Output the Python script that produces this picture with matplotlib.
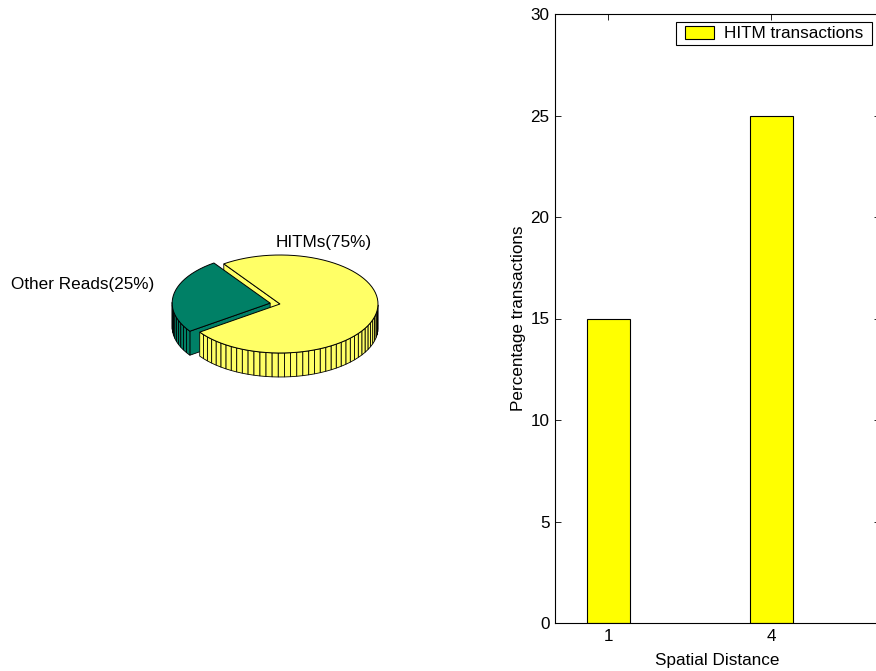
import numpy as np
import matplotlib
matplotlib.use('Agg')
import matplotlib.pyplot as plt
from matplotlib.patches import Polygon, Rectangle

# ---------------- data ----------------
pie_labels = ["HITMs(75%)", "Other Reads(25%)"]
pie_values = [75, 25]
pie_colors = ["#FFFF66", "#008066"]
pie_explode = [0, 1]

bar_categories = ["1", "4"]
bar_values = [15, 25]
legend_label = "HITM transactions"
x_label = "Spatial Distance"
y_label = "Percentage transactions"
y_ticks = [0, 5, 10, 15, 20, 25, 30]

FS = 12.3
plt.rcParams['font.family'] = ['Liberation Sans', 'DejaVu Sans']
plt.rcParams['font.size'] = FS

W, H = 876, 671
fig = plt.figure(figsize=(W / 100, H / 100), dpi=100)

# ---------------- 3D pie (projected) ----------------
pax = fig.add_axes([0, 0, 1, 1])
pax.set_xlim(0, W)
pax.set_ylim(H, 0)
pax.axis('off')

cx, cy = 280, 304       # centre of pie top (px)
rx, ry = 98, 49         # ellipse radii
th = 24                 # thickness
start_deg = 215.0
explode_dist = 10.0
step_deg = 3.6
k = ry / rx


def proj(gx, gy, bottom=False):
    return (cx + gx, cy - gy * k + (th if bottom else 0))


faces = []   # (depth, polygon pts, color)
tops = []
total = float(sum(pie_values))
a = start_deg
for val, col, ex in zip(pie_values, pie_colors, pie_explode):
    span = 360.0 * val / total
    a0, a1 = a, a + span
    a = a1
    mid = np.radians((a0 + a1) / 2)
    ox = explode_dist * ex * np.cos(mid)
    oy = explode_dist * ex * np.sin(mid)
    n = max(1, int(round(span / step_deg)))
    angs = np.radians(np.linspace(a0, a1, n + 1))
    gxs = ox + rx * np.cos(angs)
    gys = oy + rx * np.sin(angs)
    # top
    pts = [proj(ox, oy)] + [proj(gx, gy) for gx, gy in zip(gxs, gys)]
    tops.append((pts, col))
    # outer side facets
    for i in range(n):
        m = (angs[i] + angs[i + 1]) / 2
        if np.sin(m) < 0:
            q = [proj(gxs[i], gys[i]), proj(gxs[i + 1], gys[i + 1]),
                 proj(gxs[i + 1], gys[i + 1], True), proj(gxs[i], gys[i], True)]
            faces.append((oy + rx * np.sin(m), q, col))
    # radial walls
    for ang, nrm in ((angs[0], angs[0] - np.pi / 2), (angs[-1], angs[-1] + np.pi / 2)):
        if np.sin(nrm) < 0:
            ex_, ey_ = ox + rx * np.cos(ang), oy + rx * np.sin(ang)
            q = [proj(ox, oy), proj(ex_, ey_), proj(ex_, ey_, True), proj(ox, oy, True)]
            faces.append((oy + 0.5 * rx * np.sin(ang), q, col))

faces.sort(key=lambda f: -f[0])
z = 1
for d, q, col in faces:
    pax.add_patch(Polygon(q, closed=True, facecolor=col, edgecolor='black',
                          linewidth=0.6, zorder=z))
    z += 0.001
for pts, col in tops:
    pax.add_patch(Polygon(pts, closed=True, facecolor=col, edgecolor='black',
                          linewidth=0.7, zorder=3))

pax.text(324, 243, pie_labels[0], ha='center', va='center', fontsize=FS)
pax.text(83, 285, pie_labels[1], ha='center', va='center', fontsize=FS)

# ---------------- bar chart ----------------
left, right, top, bottom = 555, 880, 14, 623
bax = fig.add_axes([left / W, (H - bottom) / H, (right - left) / W, (bottom - top) / H])
xpos = np.arange(1, len(bar_categories) + 1)
bax.bar(xpos, bar_values, width=0.264, color='#FFFF00', edgecolor='black',
        linewidth=0.8, label=legend_label, zorder=2)
bax.set_xlim(0.672, 0.672 + (right - left) / 163.0)
bax.set_ylim(0, 30)
bax.set_yticks(y_ticks)
bax.set_xticks(xpos, bar_categories)
bax.tick_params(direction='in', top=True, right=True, length=4.0, width=0.6,
                pad=4, labelsize=FS)
for s in bax.spines.values():
    s.set_linewidth(0.8)
bax.spines['right'].set_visible(False)
bax.set_xlabel(x_label, fontsize=FS)
bax.set_ylabel(y_label, fontsize=FS)
bax.xaxis.set_label_coords((717.5 - left) / (right - left), -(660 - bottom) / (bottom - top))
bax.xaxis.label.set_va('center')
bax.yaxis.set_label_coords(-(left - 518) / (right - left), 0.5)
bax.yaxis.label.set_va('center')

leg = bax.legend(loc='upper right', bbox_to_anchor=(867 / W, 1 - 22 / H),
                 bbox_transform=fig.transFigure, borderaxespad=0,
                 frameon=False,
                 handlelength=1.7, handleheight=0.85, handletextpad=0.58,
                 borderpad=0.22, fontsize=FS)
leg.set_zorder(6)

fig.canvas.draw()
bb = leg.get_window_extent()
bax.add_patch(Rectangle(((bb.x0 - 5) / W, bb.y0 / H), (bb.width + 10) / W, bb.height / H,
                        transform=fig.transFigure, facecolor='white', edgecolor='black',
                        linewidth=0.8, zorder=5, clip_on=False))

fig.savefig('out.png', dpi=100)
